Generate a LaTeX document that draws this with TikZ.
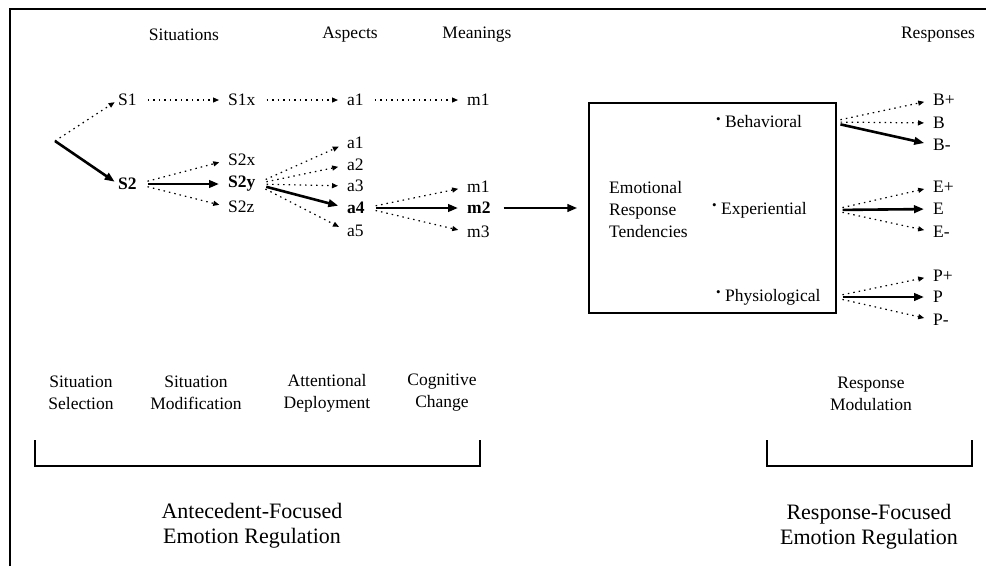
\documentclass[tikz,border=0pt]{standalone}
\usepackage{fontspec}
\setmainfont{Liberation Serif}
\usetikzlibrary{arrows.meta}
\newcommand{\bul}{\raisebox{0.25em}{\fontsize{13}{13}\selectfont •}}
\begin{document}
\begin{tikzpicture}[x=1pt,y=-1pt,
  lab/.style={font=\fontsize{17.5}{22}\selectfont, inner sep=0pt},
  blab/.style={font=\fontsize{17.5}{22}\selectfont\bfseries, inner sep=0pt},
  two/.style={lab, align=center},
  big/.style={font=\fontsize{22}{25}\selectfont, align=center, inner sep=0pt},
  dots/.style={line width=1.2pt, dash pattern=on 1.5pt off 4pt,
    -{Triangle[length=6pt,width=5pt]}, shorten <=11pt, shorten >=9pt},
  strong/.style={line width=2.6pt, -{Triangle[length=10pt,width=7.5pt]},
    shorten <=11pt, shorten >=9pt},
  frame/.style={line width=1.8pt},
  brack/.style={line width=2.2pt}]
\useasboundingbox (0,0) rectangle (986,566);
\draw[frame] (10,566) -- (10,9) -- (986,9);

% headers
\node[lab] (hSit) at (184,35) {Situations};
\node[lab] (hAsp) at (350,35) {Aspects};
\node[lab] (hMea) at (477,35) {Meanings};
\node[lab] (hRes) at (938,35) {Responses};

% row 1
\node[lab, anchor=west] (S1) at (118,100) {S1};
\node[lab, anchor=west] (S1x) at (228,100) {S1x};
\node[lab, anchor=west] (a1t) at (347,100) {a1};
\node[lab, anchor=west] (m1t) at (467,100) {m1};

% row 2
\coordinate (split) at (55,141);
\node[blab, anchor=west] (S2) at (118,184) {S2};
\node[lab, anchor=west] (S2x) at (228,160) {S2x};
\node[blab, anchor=west] (S2y) at (228,184) {S2y};
\node[lab, anchor=west] (S2z) at (228,207) {S2z};

\node[lab, anchor=west] (a1) at (347,143) {a1};
\node[lab, anchor=west] (a2) at (347,165) {a2};
\node[lab, anchor=west] (a3) at (347,186) {a3};
\node[blab, anchor=west] (a4) at (347,208) {a4};
\node[lab, anchor=west] (a5) at (347,231) {a5};

\node[lab, anchor=west] (m1) at (467,187) {m1};
\node[blab, anchor=west] (m2) at (467,208) {m2};
\node[lab, anchor=west] (m3) at (467,232) {m3};

% box
\node[draw, line width=1.4pt, minimum width=247pt, minimum height=210pt,
  inner sep=0pt] (box) at (712.5,208) {};
\node[lab, anchor=west, align=left] (ert) at (609,210)
  {Emotional\\Response\\Tendencies};
\node[lab, anchor=west] (beh) at (716,122) {\bul\ Behavioral};
\node[lab, anchor=west] (exp) at (712,210) {\bul\ Experiential};
\node[lab, anchor=west] (phy) at (716,297) {\bul\ Physiological};

\coordinate (behO) at ([xshift=-7pt]box.east |- beh.center);
\coordinate (expO) at ([xshift=-5pt]box.east |- exp.center);
\coordinate (phyO) at ([xshift=-5pt]box.east |- phy.center);

% responses
\node[lab, anchor=west] (Bp) at (933,100) {B+};
\node[lab, anchor=west] (B) at (933,123) {B};
\node[lab, anchor=west] (Bm) at (933,145) {B-};
\node[lab, anchor=west] (Ep) at (933,187) {E+};
\node[lab, anchor=west] (E) at (933,209) {E};
\node[lab, anchor=west] (Em) at (933,232) {E-};
\node[lab, anchor=west] (Pp) at (933,276) {P+};
\node[lab, anchor=west] (P) at (933,297) {P};
\node[lab, anchor=west] (Pm) at (933,320) {P-};

% connectors row 1
\draw[dots] (S1) -- (S1x);
\draw[dots] (S1x) -- (a1t);
\draw[dots] (a1t) -- (m1t);
% entry
\draw[dots, shorten <=0pt, shorten >=4pt] (split) -- (S1.west);
\draw[strong, shorten <=0pt, shorten >=4pt] (split) -- (S2.west);
% S2 fan
\draw[dots] (S2.east) -- (S2x.west);
\draw[strong] (S2.east) -- (S2y.west);
\draw[dots] (S2.east) -- (S2z.west);
% S2y fan
\draw[dots] (S2y.east) -- (a1.west);
\draw[dots] (S2y.east) -- (a2.west);
\draw[dots] (S2y.east) -- (a3.west);
\draw[strong] (S2y.east) -- (a4.west);
\draw[dots] (S2y.east) -- (a5.west);
% a4 fan
\draw[dots] (a4.east) -- (m1.west);
\draw[strong] (a4.east) -- (m2.west);
\draw[dots] (a4.east) -- (m3.west);
% to box
\draw[strong, shorten <=13pt, shorten >=11pt] (m2.east) -- (box.west);
% response fans
\draw[dots] (behO) -- (Bp.west);
\draw[dots] (behO) -- (B.west);
\draw[strong] (behO) -- (Bm.west);
\draw[dots] (expO) -- (Ep.west);
\draw[strong] (expO) -- (E.west);
\draw[dots] (expO) -- (Em.west);
\draw[dots] (phyO) -- (Pp.west);
\draw[strong] (phyO) -- (P.west);
\draw[dots] (phyO) -- (Pm.west);

% bottom labels
\node[two] (selS) at (81,393) {Situation\\Selection};
\node[two] (selM) at (196,393) {Situation\\Modification};
\node[two] (selA) at (327,393) {Attentional\\Deployment};
\node[two] (selC) at (442,393) {Cognitive\\Change};
\node[two] (selR) at (871,394) {Response\\Modulation};

% brackets
\draw[brack] (35,440) -- (35,466) -- (480,466) -- (480,440);
\draw[brack] (767,440) -- (767,466) -- (972,466) -- (972,440);

\node[big] (ant) at (252,526) {Antecedent-Focused\\Emotion Regulation};
\node[big] (rf) at (869,527) {Response-Focused\\Emotion Regulation};
\end{tikzpicture}
\end{document}
